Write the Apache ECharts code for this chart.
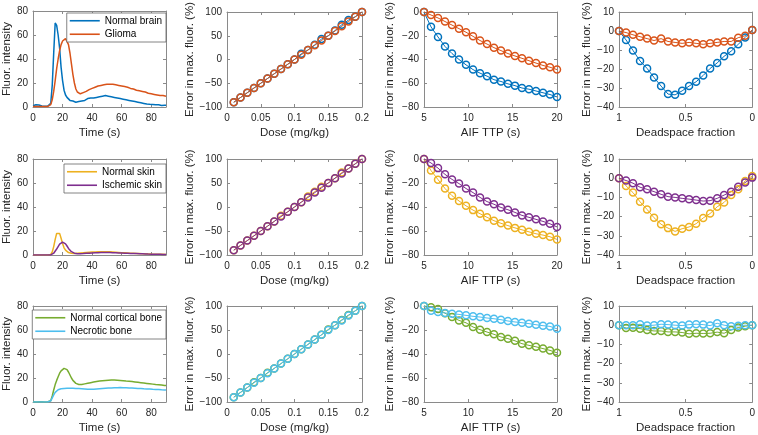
<!DOCTYPE html>
<html><head><meta charset="utf-8">
<script src="https://cdn.jsdelivr.net/npm/echarts@6/dist/echarts.min.js"></script>
<style>html,body{margin:0;padding:0;background:#fff}#c{width:758px;height:435px}</style>
</head><body><div id="c"></div>
<script>
// ---------- data ----------
const timeS = [0,1,2,3,4,5,6,7,8,9,10,11,12,13,14,15,16,17,18,19,20,21,22,23,24,25,26,27,28,29,30,31,32,33,34,35,36,37,38,39,40,41,42,43,44,45,46,47,48,49,50,51,52,53,54,55,56,57,58,59,60,61,62,63,64,65,66,67,68,69,70,71,72,73,74,75,76,77,78,79,80,81,82,83,84,85,86,87,88,89,90];
const normalBrain = [1.0,1.3,1.9,2.1,1.6,1.1,0.8,0.9,0.7,1.0,0.8,1.0,
  3,18,45,70,68,60,49,33,22,14,10,8,6.5,5.5,6,5,4.5,4,
  5,4.5,5.5,5,6,5.5,6.5,7,6.5,7.5,
  8,7.5,8.5,8,9,8.5,9.5,9,8.5,9.5,
  8.5,9,8,8.5,7.5,8,7,7.5,6.5,7,
  6,6.5,5.5,6,5,5.5,4.5,5,4,4.5,
  3.5,4,3,3.5,2.5,3,2,2.5,1.8,2.2,
  1.5,2,1.5,1.8,1.3,1.8,1.5,1.2,1.8,1.5,1.5];
const glioma = [0.5,0.3,0.5,0.2,0.4,0.3,0.5,0.2,0.4,0.3,0.5,0.6,
  2,6,13,22,32,40,47,52,55,56.5,57,56,52,45,36,27,20,15,
  12.5,11.5,11,11.5,12,12.5,13,13.5,14.5,14.5,
  15.5,15.5,16.5,16.5,17.5,17,18,17.5,18.5,18,
  19,18.5,19,18.5,19,18.5,18.5,18,18,17.5,
  17.5,17,17,16.5,16.5,16,15.5,15.5,15,14.5,
  14,13.5,13.5,13,13,12.5,12.5,12,11.5,11.5,
  11,11,10.5,10.5,10,10,9.5,9.5,9.5,9,9];
const normalSkin = [0,0,0,0,0,0,0,0,0,0,0,0.1,
  0.5,2.5,7,13,18,19.5,18,14,9.5,6,4,2.8,2,1.6,1.4,1.3,1.3,1.4,
  1.5,1.6,1.7,1.8,1.9,2,2.1,2.2,2.3,2.4,
  2.5,2.55,2.6,2.65,2.7,2.75,2.8,2.8,2.8,2.8,
  2.75,2.7,2.65,2.6,2.5,2.45,2.35,2.25,2.15,2.05,
  1.95,1.9,1.8,1.7,1.65,1.6,1.5,1.45,1.4,1.3,
  1.25,1.2,1.15,1.1,1.05,1,0.95,0.9,0.85,0.8,
  0.78,0.75,0.72,0.7,0.67,0.65,0.62,0.6,0.57,0.55,0.52];
const ischemicSkin = [0,0,0,0,0,0,0,0,0,0,0,0,0.1,
  0.5,1.5,3,5,7,9,10.3,10.8,10.5,9.3,7.5,5.5,4,2.8,2,1.5,1.2,
  1.1,1.1,1.1,1.2,1.2,1.3,1.4,1.5,1.5,1.6,
  1.7,1.7,1.8,1.8,1.9,1.9,2,2,2,2,
  2,2,2,1.95,1.9,1.9,1.85,1.8,1.75,1.7,
  1.65,1.6,1.55,1.5,1.45,1.4,1.35,1.3,1.25,1.2,
  1.15,1.1,1.05,1,0.95,0.9,0.85,0.8,0.78,0.75,
  0.72,0.7,0.67,0.65,0.62,0.6,0.57,0.55,0.52,0.5,0.48];
const corticalBone = [0.2,0.3,0.1,0.3,0.2,0.1,0.3,0.2,0.1,0.3,0.2,0.3,
  1,5,10,14.5,18,21,24,26,27.5,28,28,27,25,22.5,20,18,16.5,15.5,
  15,14.6,14.4,14.6,14.8,15.1,15.2,15.6,15.7,16.1,
  16.2,16.6,16.7,17.1,17.1,17.5,17.4,17.8,17.7,18,
  17.9,18.2,18.1,18.3,18.1,18.3,18.1,18.2,17.9,18,
  17.7,17.8,17.5,17.5,17.2,17.3,17,17,16.7,16.7,
  16.4,16.4,16.1,16.1,15.8,15.8,15.5,15.5,15.2,15.2,
  14.9,14.9,14.7,14.6,14.4,14.4,14.1,14.1,13.9,13.8,13.7];
const necroticBone = [0,0.1,0,0.1,0,0.1,0,0.1,0,0.1,0,0.1,
  1,3.5,6,8,9.3,10.2,10.7,11,11.2,11.3,11.3,11.4,11.3,11.4,11.3,11.4,11.3,11.3,
  11.2,11.2,11.1,11.1,11,10.9,10.8,10.7,10.7,10.6,
  10.6,10.7,10.8,10.9,11,11.1,11.2,11.3,11.4,11.5,
  11.5,11.6,11.6,11.7,11.7,11.8,11.8,11.9,11.9,12,
  12,11.9,11.9,11.8,11.8,11.7,11.7,11.6,11.5,11.5,
  11.4,11.3,11.3,11.2,11.1,11,11,10.9,10.8,10.8,
  10.7,10.6,10.6,10.5,10.4,10.4,10.3,10.2,10.2,10.1,10];

const dose = [0.01,0.02,0.03,0.04,0.05,0.06,0.07,0.08,0.09,0.10,0.11,0.12,0.13,0.14,0.15,0.16,0.17,0.18,0.19,0.20];
const brainDose   = [-90,-80,-70,-60,-50,-40,-30,-20,-10,0,12,20,31,43,50,61,73,83,90,100];
const gliomaDose  = [-90,-80,-70,-60,-50,-40,-30,-20,-10,0,10,20,30,40,50,60,70,80,90,100];
const skinDose    = [-90,-80,-70,-60,-50,-40,-30,-18,-10,0,10,22,32,42,50,60,72,80,90,100];
const ischDose    = [-90,-80,-70,-60,-50,-40,-30,-20,-10,0,10,20,30,40,50,60,70,80,90,100];
const boneDose    = [-90,-80,-70,-59,-50,-39,-30,-20,-10,0,10,20,30,40,51,60,71,81,90,100];
const necDose     = [-90,-80,-70,-60,-50,-40,-30,-20,-10,0,10,20,30,40,50,60,70,80,90,100];

const ttp = [5,5.79,6.58,7.37,8.16,8.95,9.74,10.53,11.32,12.11,12.89,13.68,14.47,15.26,16.05,16.84,17.63,18.42,19.21,20];
const brainTTP  = [0,-12.5,-21,-29,-35,-40,-44.5,-48.5,-51.5,-54,-57,-58.5,-60.5,-62,-64,-65,-66.5,-68,-69.5,-71.5];
const gliomaTTP = [0,-2.5,-5,-8,-11,-14,-17,-20.5,-24,-27,-30,-32.5,-35,-37,-39,-41,-43,-45,-46.5,-48.5];
const skinTTP   = [0,-9.6,-17.2,-24.6,-30.6,-35,-39,-42.6,-45.6,-48.6,-51.4,-53.6,-55.5,-57.4,-59,-60.7,-62.3,-63.4,-64.8,-67];
const ischTTP   = [0,-3.3,-7.6,-12.8,-17,-20.5,-24.6,-28,-32,-35.5,-37.7,-40.4,-42.3,-44.5,-47,-48.6,-50.3,-52,-54,-56.6];
const boneTTP   = [0,-1,-2.5,-6,-9.2,-12,-14,-17.5,-19.7,-21.7,-23.6,-25.8,-27.2,-29,-31.4,-32.8,-34,-35.5,-37,-39];
const necTTP    = [0,-4,-5,-5.8,-6.4,-7,-7.8,-8.6,-9.2,-10,-10.6,-11.4,-12.5,-13.3,-13.9,-14.7,-15.6,-16.4,-17,-19];

const deadspace = [1,0.947,0.895,0.842,0.789,0.737,0.684,0.632,0.579,0.526,0.474,0.421,0.368,0.316,0.263,0.211,0.158,0.105,0.053,0];
const brainDS  = [0,-4.7,-10.2,-15.8,-19.7,-24.5,-29,-33.2,-33.6,-31.5,-29,-26.7,-23.4,-19.7,-16.8,-13.3,-10.6,-7,-3.4,0.5];
const gliomaDS = [0,-0.8,-2,-3,-4,-5,-4,-5.5,-6,-6.5,-6,-6.5,-7,-6.5,-6,-5.5,-5.5,-3.5,-2.5,0.5];
const skinDS   = [0,-4,-7.5,-12.3,-16.3,-20.6,-24,-26,-27.7,-26.3,-25.4,-23.7,-20.7,-18.4,-14.9,-12.6,-8.8,-5.8,-1.4,1.2];
const ischDS   = [0,-1.2,-2.6,-4.7,-5.8,-7,-8.4,-9.6,-10,-10.5,-10.9,-11.4,-11.9,-11.7,-10.5,-8.8,-7,-4.4,-2.3,0.3];
const boneDS   = [0,-1.5,-1.3,-1.8,-2.5,-3,-3,-3.5,-3.5,-3.8,-4.5,-4.2,-4.3,-4.2,-3.6,-4.2,-2.5,-1.2,-0.5,0];
const necDS    = [0,0,0,0.5,-0.2,0,0.5,0.3,0,-0.2,0.3,0.5,0.3,-0.2,1,0,-0.5,-0.3,0,0];

const xTitles = ['Time (s)','Dose (mg/kg)','AIF TTP (s)','Deadspace fraction'];
const yTitles = ['Fluor. intensity','Error in max. fluor. (%)','Error in max. fluor. (%)','Error in max. fluor. (%)'];

// ---------- layout / style ----------
const C = {blue:'#0072BD', orange:'#D95319', yellow:'#EDB120', purple:'#7E2F8E', green:'#77AC30', cyan:'#4DBEEE'};
const AX = '#8a8a8a', TXT = '#262626';
const FONT = '"Liberation Sans", Arial, Helvetica, sans-serif';
const colLeft = [33,227,424,619], colW = [133,135,133,134], rowTop = [11,159,306], rowH = 96;
const xSpec = [
  {min:0,max:90,interval:20,hideMax:true},
  {min:0,max:0.2,interval:0.05},
  {min:5,max:20,interval:5},
  {min:0,max:1,interval:0.5,inverse:true}
];
const ySpec = [
  {min:0,max:80,interval:20,gap:19},
  {min:-100,max:100,interval:50,gap:30},
  {min:-80,max:0,interval:20,gap:28},
  {min:-40,max:10,interval:10,gap:26}
];
const fmt = v => { const s = String(+(+v).toFixed(3)); return s.replace('-', '\u2212'); };

const grids = [], xAxes = [], yAxes = [], series = [];
const axisIdx = [];
for (let r = 0; r < 3; r++) for (let c = 0; c < 4; c++) {
  const g = grids.length;
  grids.push({left: colLeft[c], top: rowTop[r], width: colW[c], height: rowH, containLabel: false});
  const xs = xSpec[c], ys = ySpec[c];
  const common = {gridIndex: g, type: 'value', splitLine: {show: false},
    axisLine: {show: true, onZero: false, lineStyle: {color: AX, width: 1}},
    axisTick: {show: true, inside: true, length: 3, lineStyle: {color: AX, width: 1}}};
  const xi = xAxes.length;
  xAxes.push(Object.assign({}, common, {min: xs.min, max: xs.max, interval: xs.interval, inverse: !!xs.inverse,
    position: 'bottom', name: xTitles[c], nameLocation: 'middle', nameGap: 20,
    nameTextStyle: {fontFamily: FONT, fontSize: 11.5, color: TXT},
    axisLabel: {fontFamily: FONT, fontSize: 10, color: TXT, margin: 6, formatter: fmt,
      showMaxLabel: xs.hideMax ? false : undefined, hideOverlap: false}}));
  xAxes.push(Object.assign({}, common, {min: xs.min, max: xs.max, interval: xs.interval, inverse: !!xs.inverse,
    position: 'top', axisLabel: {show: false}}));
  const yi = yAxes.length;
  yAxes.push(Object.assign({}, common, {min: ys.min, max: ys.max, interval: ys.interval,
    position: 'left', name: yTitles[c], nameLocation: 'middle', nameGap: ys.gap, nameRotate: 90,
    nameTextStyle: {fontFamily: FONT, fontSize: 11.5, color: TXT},
    axisLabel: {fontFamily: FONT, fontSize: 10, color: TXT, margin: 5, formatter: fmt}}));
  yAxes.push(Object.assign({}, common, {min: ys.min, max: ys.max, interval: ys.interval,
    position: 'right', axisLabel: {show: false}}));
  axisIdx.push([xi, yi]);
}

function curve(g, name, xs, ys, color) {
  series.push({type: 'line', name, xAxisIndex: axisIdx[g][0], yAxisIndex: axisIdx[g][1],
    data: xs.map((x, i) => [x, ys[i]]), symbol: 'none', clip: true, animation: false,
    lineStyle: {color, width: 1.5}, itemStyle: {color}});
}
function markers(g, name, xs, ys, color) {
  series.push({type: 'line', name, xAxisIndex: axisIdx[g][0], yAxisIndex: axisIdx[g][1],
    data: xs.map((x, i) => [x, ys[i]]), symbol: 'circle', symbolSize: 7, clip: false, animation: false,
    lineStyle: {color, width: 1}, itemStyle: {color: 'rgba(255,255,255,0)', borderColor: color, borderWidth: 1.5}});
}

// row 1
curve(0, 'Normal brain', timeS, normalBrain, C.blue);
curve(0, 'Glioma', timeS, glioma, C.orange);
markers(1, 'b-dose', dose, brainDose, C.blue);
markers(1, 'g-dose', dose, gliomaDose, C.orange);
markers(2, 'b-ttp', ttp, brainTTP, C.blue);
markers(2, 'g-ttp', ttp, gliomaTTP, C.orange);
markers(3, 'b-ds', deadspace, brainDS, C.blue);
markers(3, 'g-ds', deadspace, gliomaDS, C.orange);
// row 2
curve(4, 'Normal skin', timeS, normalSkin, C.yellow);
curve(4, 'Ischemic skin', timeS, ischemicSkin, C.purple);
markers(5, 's-dose', dose, skinDose, C.yellow);
markers(5, 'i-dose', dose, ischDose, C.purple);
markers(6, 's-ttp', ttp, skinTTP, C.yellow);
markers(6, 'i-ttp', ttp, ischTTP, C.purple);
markers(7, 's-ds', deadspace, skinDS, C.yellow);
markers(7, 'i-ds', deadspace, ischDS, C.purple);
// row 3
curve(8, 'Normal cortical bone', timeS, corticalBone, C.green);
curve(8, 'Necrotic bone', timeS, necroticBone, C.cyan);
markers(9, 'c-dose', dose, boneDose, C.green);
markers(9, 'n-dose', dose, necDose, C.cyan);
markers(10, 'c-ttp', ttp, boneTTP, C.green);
markers(10, 'n-ttp', ttp, necTTP, C.cyan);
markers(11, 'c-ds', deadspace, boneDS, C.green);
markers(11, 'n-ds', deadspace, necDS, C.cyan);

const legendBase = {orient: 'vertical', right: 758 - 166, selectedMode: false,
  icon: 'rect', itemWidth: 30, itemHeight: 1.6, itemGap: 2, padding: [2, 4, 2, 3],
  backgroundColor: '#fff', borderColor: '#666', borderWidth: 0.8, borderRadius: 0,
  textStyle: {fontFamily: FONT, fontSize: 10, color: '#000', lineHeight: 11.5}};
const legends = [
  Object.assign({}, legendBase, {top: 13, data: ['Normal brain', 'Glioma']}),
  Object.assign({}, legendBase, {top: 164, data: ['Normal skin', 'Ischemic skin']}),
  Object.assign({}, legendBase, {top: 310, data: ['Normal cortical bone', 'Necrotic bone']})
];

const chart = echarts.init(document.getElementById('c'), null, {renderer: 'canvas'});
chart.setOption({backgroundColor: '#fff', animation: false, grid: grids, xAxis: xAxes, yAxis: yAxes,
  legend: legends, series});
</script></body></html>
